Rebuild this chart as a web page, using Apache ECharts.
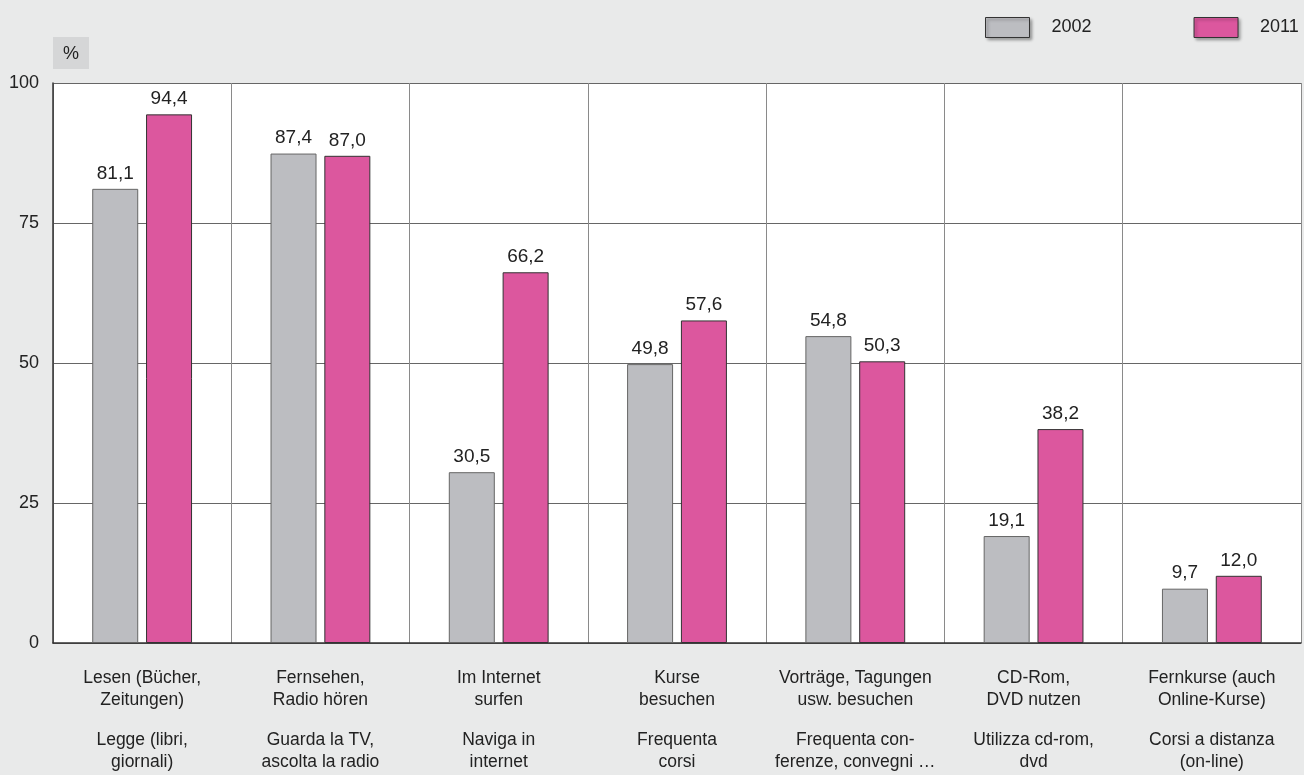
<!DOCTYPE html>
<html>
<head>
<meta charset="utf-8">
<script src="https://cdn.jsdelivr.net/npm/echarts@6/dist/echarts.min.js"></script>
<style>
html,body{margin:0;padding:0;background:#e9eaea;}
#c{width:1304px;height:775px;}
</style>
</head>
<body>
<div id="c"></div>
<script>
const categoriesDE = [
  'Lesen (Bücher,\nZeitungen)',
  'Fernsehen,\nRadio hören',
  'Im Internet\nsurfen',
  'Kurse\nbesuchen',
  'Vorträge, Tagungen\nusw. besuchen',
  'CD-Rom,\nDVD nutzen',
  'Fernkurse (auch\nOnline-Kurse)'
];
const categoriesIT = [
  'Legge (libri,\ngiornali)',
  'Guarda la TV,\nascolta la radio',
  'Naviga in\ninternet',
  'Frequenta\ncorsi',
  'Frequenta con-\nferenze, convegni …',
  'Utilizza cd-rom,\ndvd',
  'Corsi a distanza\n(on-line)'
];
const seriesNames = ['2002', '2011'];
const values2002 = [81.1, 87.4, 30.5, 49.8, 54.8, 19.1, 9.7];
const values2011 = [94.4, 87.0, 66.2, 57.6, 50.3, 38.2, 12.0];
const yTicks = [0, 25, 50, 75, 100];

const categories = categoriesDE.map((d, i) => d + '||' + categoriesIT[i]);

const chart = echarts.init(document.getElementById('c'), null, {renderer: 'canvas'});
const font = 'Liberation Sans, Arial, sans-serif';
const fmt = p => p.value.toFixed(1).replace('.', ',');

chart.setOption({
  backgroundColor: '#e9eaea',
  textStyle: {fontFamily: font},
  legend: {
    orient: 'horizontal',
    left: 980, top: 12, width: 330,
    icon: 'rect',
    itemWidth: 44, itemHeight: 20, itemGap: 102,
    data: seriesNames,
    textStyle: {fontSize: 18, color: '#222', fontFamily: font, padding: [0, 0, 0, 17]},
    itemStyle: {borderColor: '#333', borderWidth: 1, shadowBlur: 3, shadowOffsetX: 2, shadowOffsetY: 2, shadowColor: 'rgba(0,0,0,0.35)'}
  },
  graphic: [{
    type: 'group', left: 53, top: 37,
    children: [
      {type: 'rect', shape: {x: 0, y: 0, width: 36, height: 32}, style: {fill: '#d5d6d7'}},
      {type: 'text', x: 18, y: 17, style: {text: '%', fontSize: 18, fontFamily: font, fill: '#222', align: 'center', verticalAlign: 'middle'}}
    ]
  }],
  grid: {left: 53, right: 3, top: 83, bottom: 132, show: true, backgroundColor: '#fff', borderWidth: 0},
  xAxis: {
    type: 'category',
    data: categories,
    axisLine: {show: true, lineStyle: {color: '#333', width: 1.5}},
    axisTick: {show: false},
    splitLine: {show: true, lineStyle: {color: '#8a8a8a', width: 1}},
    axisLabel: {
      interval: 0, margin: 24,
      formatter: v => {
        const [de, it] = v.split('||');
        const a = de.split('\n').map(s => '{de|' + s + '}');
        const b = it.split('\n').map(s => '{de|' + s + '}');
        return a.join('\n') + '\n{g| }\n' + b.join('\n');
      },
      rich: {
        de: {fontSize: 17.5, lineHeight: 22, color: '#222', fontFamily: font},
        g: {fontSize: 8, lineHeight: 18}
      }
    }
  },
  yAxis: {
    type: 'value', min: 0, max: 100, interval: 25,
    axisLine: {show: true, lineStyle: {color: '#333', width: 1.5}},
    axisTick: {show: false},
    splitLine: {show: true, lineStyle: {color: '#666', width: 1}},
    axisLabel: {
      fontSize: 18, color: '#222', margin: 14, fontFamily: font, padding: [7, 0, 0, 0],
      formatter: v => yTicks.includes(v) ? String(v) : ''
    }
  },
  series: [
    {
      name: seriesNames[0], type: 'bar', data: values2002,
      barWidth: 46, barGap: '17%',
      itemStyle: {color: '#bcbdc1', borderColor: '#666', borderWidth: 1},
      label: {show: true, position: 'top', distance: 6, fontSize: 19, color: '#222', fontFamily: font, formatter: fmt}
    },
    {
      name: seriesNames[1], type: 'bar', data: values2011,
      barWidth: 46,
      itemStyle: {color: '#dc579e', borderColor: '#333', borderWidth: 1},
      label: {show: true, position: 'top', distance: 6, fontSize: 19, color: '#222', fontFamily: font, formatter: fmt}
    }
  ]
});
</script>
</body>
</html>
